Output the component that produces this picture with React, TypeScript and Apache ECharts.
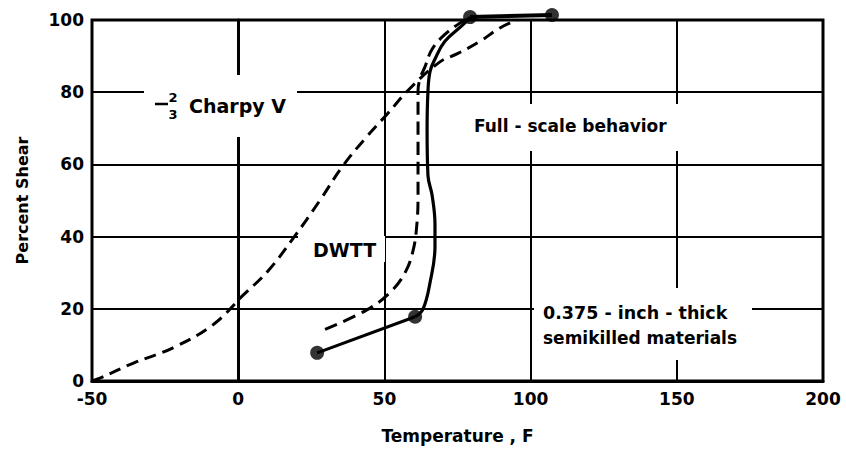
import React, { useEffect, useRef } from "react";
import * as echarts from "echarts";

// Temperature (F) and percent shear values
const charpyT = [-50, -47.3, -36, -22.3, -8.6, 1.6, 10.2, 19.4, 28, 35.8, 44, 50.9, 58.8, 69, 74.8, 82.7, 89.5, 95.3];
const charpyShear = [0, 0.8, 4.9, 9.2, 15.6, 23.7, 30.5, 40.2, 50.1, 59.6, 67.7, 73.9, 81.1, 88.4, 90.6, 94.1, 97.8, 100];

const dwttT = [29.7, 44, 51.9, 57, 59.8, 61.1, 61.5, 61.5, 61.5, 62.2, 63.9, 66.3, 70.7, 76.5, 79.3];
const dwttShear = [14.3, 19.7, 24.5, 29.9, 36.1, 43.4, 51.5, 69.5, 80.3, 83.8, 87.1, 91.9, 96, 99.5, 100.5];

const fullT = [60.5, 63.2, 65.6, 67.3, 67.3, 66.3, 64.9, 64.6, 64.9, 65.6, 67.3, 70.7, 76.9, 79.3];
const fullShear = [17.8, 19.9, 27.2, 37.2, 43.4, 51.5, 56.9, 69.5, 80.3, 85.7, 89.2, 94.1, 98.7, 100.8];

const dotT = [27, 60.5, 79.3, 107.3];
const dotShear = [7.8, 17.8, 100.8, 101.4];

const xTicks = [-50, 0, 50, 100, 150, 200];
const yTicks = [0, 20, 40, 60, 80, 100];

const FONT = "DejaVu Sans";

const zip = (a: number[], b: number[]) => a.map((v, i) => [v, b[i]]);

export default function App() {
  const ref = useRef<HTMLDivElement>(null);
  useEffect(() => {
    if (!ref.current) return;
    const chart = echarts.init(ref.current, undefined, { renderer: "svg" });
    const dots = zip(dotT, dotShear);
    const txt = (text: string, x: number, y: number, size: number, align = "left") => ({
      type: "text",
      z: 5,
      x,
      y,
      style: {
        text,
        fill: "#000",
        fontFamily: FONT,
        fontSize: size,
        fontWeight: "bold",
        align,
        verticalAlign: "middle",
      },
    });
    const box = (x: number, y: number, w: number, h: number) => ({
      type: "rect",
      z: 1,
      shape: { x, y, width: w, height: h },
      style: { fill: "#fff" },
    });
    chart.setOption({
      animation: false,
      backgroundColor: "#fff",
      grid: {
        left: 92,
        top: 20,
        width: 731,
        height: 371,
        show: true,
        borderColor: "#000",
        borderWidth: 3,
        backgroundColor: "transparent",
      },
      xAxis: {
        type: "value",
        min: xTicks[0],
        max: xTicks[xTicks.length - 1],
        interval: 50,
        name: "Temperature , F",
        nameLocation: "middle",
        nameGap: 46,
        nameTextStyle: { color: "#000", fontFamily: FONT, fontSize: 17, fontWeight: "bold" },
        axisLine: { lineStyle: { color: "#000", width: 3 } },
        axisTick: { show: false },
        axisLabel: { color: "#000", fontFamily: FONT, fontSize: 17, fontWeight: "bold", margin: 9 },
        splitLine: { show: true, lineStyle: { color: "#000", width: 2 } },
      },
      yAxis: {
        type: "value",
        min: yTicks[0],
        max: yTicks[yTicks.length - 1],
        interval: 20,
        name: "Percent Shear",
        nameLocation: "middle",
        nameGap: 62,
        nameTextStyle: { color: "#000", fontFamily: FONT, fontSize: 16, fontWeight: "bold" },
        axisLine: { lineStyle: { color: "#000", width: 3 } },
        axisTick: { show: false },
        axisLabel: { color: "#000", fontFamily: FONT, fontSize: 17, fontWeight: "bold", margin: 8 },
        splitLine: { show: true, lineStyle: { color: "#000", width: 2 } },
      },
      graphic: [
        box(144, 75, 153, 62),
        box(465, 104, 217, 47),
        box(298, 236, 87, 26),
        box(534, 288, 218, 72),
        {
          type: "line",
          z: 5,
          shape: { x1: 155, y1: 104, x2: 168, y2: 104 },
          style: { stroke: "#000", lineWidth: 2.5 },
        },
        txt("2", 173, 97, 13, "center"),
        txt("3", 173, 114, 13, "center"),
        txt("Charpy V", 189, 106, 19),
        txt("Full - scale behavior", 474, 126, 17),
        txt("DWTT", 313, 250, 19),
        txt("0.375 - inch - thick", 543, 313, 17.5),
        txt("semikilled materials", 543, 338, 17),
      ],
      series: [
        {
          type: "line",
          data: zip(charpyT, charpyShear),
          smooth: 0.4,
          symbol: "none",
          clip: false,
          lineStyle: { color: "#000", width: 3, type: [12, 7] },
        },
        {
          type: "line",
          data: zip(dwttT, dwttShear),
          smooth: 0.4,
          symbol: "none",
          clip: false,
          lineStyle: { color: "#000", width: 3, type: [13, 7] },
        },
        {
          type: "line",
          data: zip(fullT, fullShear),
          smooth: 0.4,
          symbol: "none",
          clip: false,
          lineStyle: { color: "#000", width: 3.2 },
        },
        {
          type: "line",
          data: [dots[0], dots[1]],
          symbol: "none",
          clip: false,
          lineStyle: { color: "#000", width: 3 },
        },
        {
          type: "line",
          data: [dots[2], dots[3]],
          symbol: "none",
          clip: false,
          lineStyle: { color: "#000", width: 4 },
        },
        {
          type: "scatter",
          data: dots,
          symbol: "circle",
          symbolSize: 14,
          clip: false,
          z: 4,
          itemStyle: { color: "#000" },
        },
      ],
    });
    return () => chart.dispose();
  }, []);
  return (
    <div
      ref={ref}
      style={{ position: "absolute", left: 0, top: 0, width: 846, height: 449 }}
    />
  );
}
